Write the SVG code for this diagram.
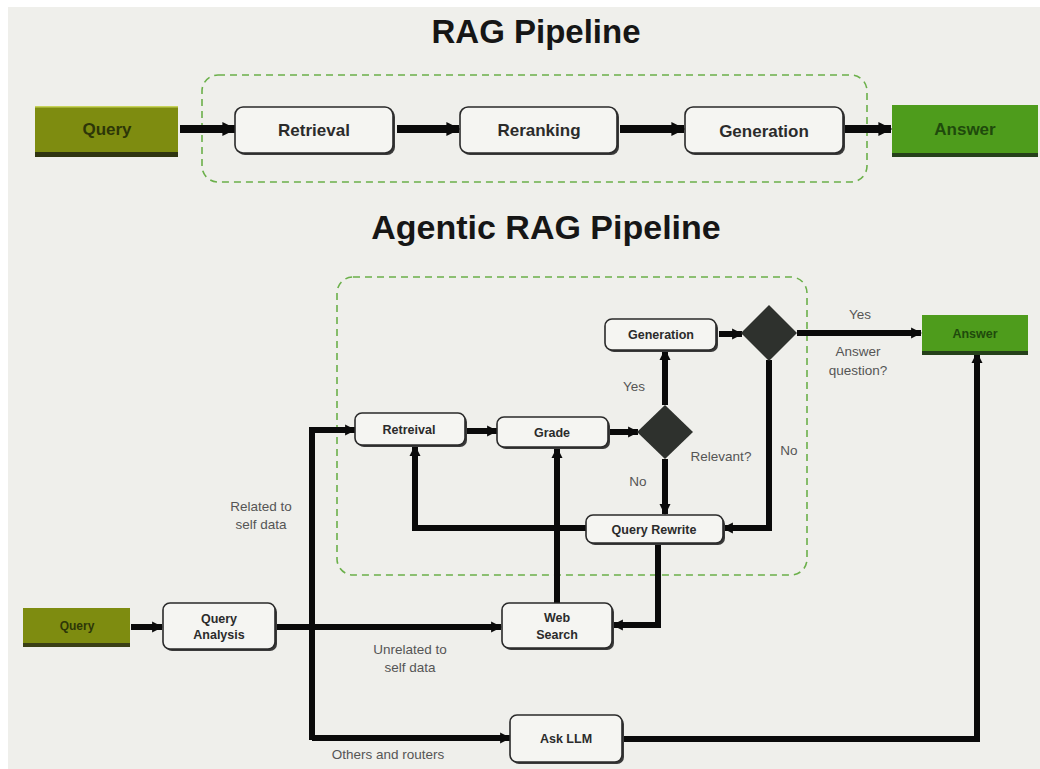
<svg xmlns="http://www.w3.org/2000/svg" width="1040" height="769" viewBox="0 0 1040 769">
  <style>
    .title { font-family: "Liberation Sans", Arial, sans-serif; font-weight: bold; fill: #161616; text-anchor: middle; }
    .node { fill: #f5f5f2; stroke: #2a2a2a; stroke-width: 1.6; }
    .shadow { fill: #3a3a3a; }
    .lbl { font-family: "Liberation Sans", Arial, sans-serif; font-weight: bold; fill: #2b2b2b; text-anchor: middle; }
    .note { font-family: "Liberation Sans", Arial, sans-serif; fill: #555; text-anchor: middle; font-size: 13.5px; }
    .frame { fill: none; stroke: #6bb04a; stroke-width: 1.6; stroke-dasharray: 7 5; }
    .wire { fill: none; stroke: #0a0a0a; stroke-linejoin: miter; stroke-linecap: butt; }
    .big { stroke-width: 8; }
    .small { stroke-width: 6; }
    .diamond { fill: #2e312d; }
  </style>
  <defs>
    <marker id="headBig" viewBox="0 0 10 10" refX="9" refY="5" markerUnits="userSpaceOnUse" markerWidth="14" markerHeight="20" orient="auto">
      <path d="M0,0 L10,5 L0,10 Z" fill="#0a0a0a"/>
    </marker>
    <marker id="head" viewBox="0 0 10 10" refX="9" refY="5" markerUnits="userSpaceOnUse" markerWidth="11" markerHeight="15" orient="auto">
      <path d="M0,0 L10,5 L0,10 Z" fill="#0a0a0a"/>
    </marker>
  </defs>

  <!-- page -->
  <rect x="0" y="0" width="1040" height="769" fill="#ffffff"/>
  <rect x="8" y="7" width="1032" height="762" fill="#efefeb"/>

  <!-- titles -->
  <text class="title" x="536" y="43" font-size="33">RAG Pipeline</text>
  <text class="title" x="546" y="239" font-size="34">Agentic RAG Pipeline</text>

  <!-- dashed groupings -->
  <rect class="frame" x="202" y="75" width="665" height="107" rx="16"/>
  <rect class="frame" x="337" y="277" width="470" height="298" rx="16"/>

  <!-- connectors -->
  <g id="connectors">
    <!-- simple pipeline -->
    <path class="wire big" d="M180,129 H235" marker-end="url(#headBig)"/>
    <path class="wire big" d="M397,129 H459" marker-end="url(#headBig)"/>
    <path class="wire big" d="M620,129 H684" marker-end="url(#headBig)"/>
    <path class="wire big" d="M845,129 H891" marker-end="url(#headBig)"/>

    <!-- agentic pipeline -->
    <path class="wire small" d="M131,627 H162" marker-end="url(#head)"/>
    <path class="wire small" d="M276,627 H501" marker-end="url(#head)"/>
    <path class="wire small" d="M312,740 V430 H355" marker-end="url(#head)"/>
    <path class="wire small" d="M312,738 H510" marker-end="url(#head)"/>
    <path class="wire small" d="M623,739 H977 V353" marker-end="url(#head)"/>
    <path class="wire small" d="M466,431 H497" marker-end="url(#head)"/>
    <path class="wire small" d="M609,432 H638" marker-end="url(#head)"/>
    <path class="wire small" d="M665,405 V350" marker-end="url(#head)"/>
    <path class="wire small" d="M665,459 V514" marker-end="url(#head)"/>
    <path class="wire small" d="M719,334 H742" marker-end="url(#head)"/>
    <path class="wire small" d="M797,333 H921" marker-end="url(#head)"/>
    <path class="wire small" d="M769,360 V528 H723" marker-end="url(#head)"/>
    <path class="wire small" d="M586,528 H415 V446" marker-end="url(#head)"/>
    <path class="wire small" d="M658,544 V625 H613" marker-end="url(#head)"/>
    <path class="wire small" d="M557,603 V448" marker-end="url(#head)"/>
  </g>

  <!-- simple pipeline nodes -->
  <g id="rag-query">
    <rect x="35" y="110" width="143" height="47" fill="#2f3410"/>
    <rect x="35" y="106" width="143" height="46" fill="#7e8c10"/>
    <rect x="35" y="106" width="143" height="1.5" fill="#c7d35a"/>
    <text class="lbl" x="107" y="135" font-size="17" style="fill:#2d3608">Query</text>
  </g>
  <g id="rag-retrieval">
    <rect class="shadow" x="237" y="109" width="158" height="46" rx="8"/>
    <rect class="node" x="235" y="107" width="158" height="46" rx="8"/>
    <text class="lbl" x="314" y="136" font-size="17">Retrieval</text>
  </g>
  <g id="rag-reranking">
    <rect class="shadow" x="462" y="109" width="157" height="46" rx="8"/>
    <rect class="node" x="460" y="107" width="157" height="46" rx="8"/>
    <text class="lbl" x="539" y="136" font-size="17">Reranking</text>
  </g>
  <g id="rag-generation">
    <rect class="shadow" x="687" y="109" width="158" height="46" rx="8"/>
    <rect class="node" x="685" y="107" width="158" height="46" rx="8"/>
    <text class="lbl" x="764" y="137" font-size="17">Generation</text>
  </g>
  <g id="rag-answer">
    <rect x="892" y="110" width="146" height="47" fill="#25401a"/>
    <rect x="892" y="105" width="146" height="48" fill="#4e9c1c"/>
    <text class="lbl" x="965" y="135" font-size="17" style="fill:#1f4a0c">Answer</text>
  </g>

  <!-- agentic pipeline nodes -->
  <g id="agent-query">
    <rect x="23" y="611" width="107" height="36" fill="#3a3f14"/>
    <rect x="23" y="608" width="107" height="35" fill="#7e8c10"/>
    <text class="lbl" x="77" y="630" font-size="12" style="fill:#2d3608">Query</text>
  </g>
  <g id="agent-query-analysis">
    <rect class="shadow" x="165" y="605" width="112" height="46" rx="7"/>
    <rect class="node" x="163" y="603" width="112" height="46" rx="7"/>
    <text class="lbl" x="219" y="623" font-size="12.5">Query</text>
    <text class="lbl" x="219" y="639" font-size="12.5">Analysis</text>
  </g>
  <g id="agent-retrieval">
    <rect class="shadow" x="357" y="415" width="110" height="32" rx="7"/>
    <rect class="node" x="355" y="413" width="110" height="32" rx="7"/>
    <text class="lbl" x="409" y="434" font-size="12.5">Retreival</text>
  </g>
  <g id="agent-grade">
    <rect class="shadow" x="499" y="419" width="111" height="30" rx="7"/>
    <rect class="node" x="497" y="417" width="111" height="30" rx="7"/>
    <text class="lbl" x="552" y="437" font-size="12.5">Grade</text>
  </g>
  <g id="agent-relevant">
    <polygon class="diamond" points="665,405 693,432 665,459 637,432"/>
  </g>
  <g id="agent-generation">
    <rect class="shadow" x="607" y="321" width="111" height="31" rx="7"/>
    <rect class="node" x="605" y="319" width="111" height="31" rx="7"/>
    <text class="lbl" x="661" y="339" font-size="12.5">Generation</text>
  </g>
  <g id="agent-answer-check">
    <polygon class="diamond" points="769,305 797,333 769,361 741,333"/>
  </g>
  <g id="agent-answer">
    <rect x="922" y="318" width="106" height="37" fill="#25401a"/>
    <rect x="922" y="315" width="106" height="36" fill="#4e9c1c"/>
    <text class="lbl" x="975" y="338" font-size="12.5" style="fill:#1f4a0c">Answer</text>
  </g>
  <g id="agent-query-rewrite">
    <rect class="shadow" x="588" y="517" width="137" height="28" rx="7"/>
    <rect class="node" x="586" y="515" width="137" height="28" rx="7"/>
    <text class="lbl" x="654" y="534" font-size="12.5">Query Rewrite</text>
  </g>
  <g id="agent-web-search">
    <rect class="shadow" x="504" y="605" width="110" height="45" rx="7"/>
    <rect class="node" x="502" y="603" width="110" height="45" rx="7"/>
    <text class="lbl" x="557" y="622" font-size="12.5">Web</text>
    <text class="lbl" x="557" y="639" font-size="12.5">Search</text>
  </g>
  <g id="agent-ask-llm">
    <rect class="shadow" x="512" y="717" width="112" height="47" rx="7"/>
    <rect class="node" x="510" y="715" width="112" height="47" rx="7"/>
    <text class="lbl" x="566" y="743" font-size="12.5">Ask LLM</text>
  </g>

  <!-- edge labels -->
  <g id="labels">
    <text class="note" x="634" y="391">Yes</text>
    <text class="note" x="638" y="486">No</text>
    <text class="note" x="721" y="461">Relevant?</text>
    <text class="note" x="789" y="455">No</text>
    <text class="note" x="860" y="319">Yes</text>
    <text class="note" x="858" y="356">Answer</text>
    <text class="note" x="858" y="375">question?</text>
    <text class="note" x="261" y="511">Related to</text>
    <text class="note" x="261" y="529">self data</text>
    <text class="note" x="410" y="654">Unrelated to</text>
    <text class="note" x="410" y="672">self data</text>
    <text class="note" x="388" y="759">Others and routers</text>
  </g>
</svg>
